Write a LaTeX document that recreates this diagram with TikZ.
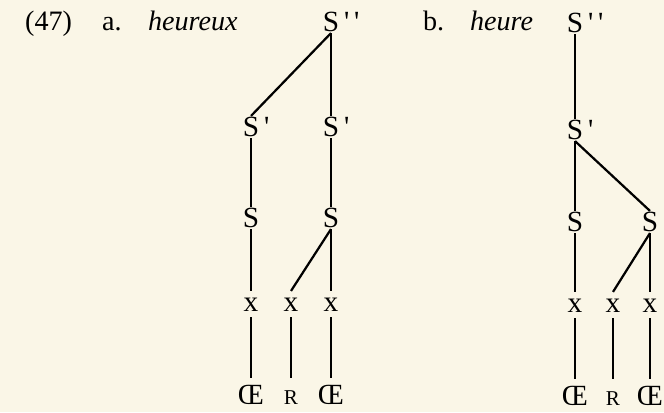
\documentclass[tikz,border=0pt]{standalone}
\usepackage{fontspec}
\setmainfont{Liberation Serif}
\usetikzlibrary{positioning}
\definecolor{paper}{RGB}{250,246,231}

\newcommand{\pr}{\rlap{\,\textquotesingle}}
\newcommand{\ppr}{\rlap{\,\textquotesingle\,\textquotesingle}}

\begin{document}
\begin{tikzpicture}[x=0.03cm, y=-0.03cm,
    every node/.style={font=\fontsize{25}{30}\selectfont},
    cat/.style={inner sep=1pt, text height=16.5pt, text depth=0pt},
    smallcat/.style={cat, font=\fontsize{18}{22}\selectfont},
    title/.style={anchor=base west, font=\fontsize{24}{28}\selectfont},
    branch/.style={line width=1.9pt},
    stem/.style={branch, shorten <=3.5pt, shorten >=5pt}
]

% page
\fill[paper] (0,0) rectangle (664,412);
\useasboundingbox (0,0) rectangle (664,412);

% ============ HEADINGS ============
\node[title] (num) at (21,30) {(47)};
\node[title] (la) at (98,30) {a.};
\node[title] (wa) at (144,30) {\itshape heureux};
\node[title] (lb) at (419,30) {b.};
\node[title] (wb) at (466,30) {\itshape heure};

% ============ TREE A: heureux ============
\node[cat] (a0) at (331,22) {S\ppr};
\node[cat] (a1l) at (251,127) {S\pr};
\node[cat] (a1r) at (331,127) {S\pr};
\node[cat] (a2l) at (251,218) {S};
\node[cat] (a2r) at (331,218) {S};
\node[cat] (a3l) at (251,302) {x};
\node[cat] (a3m) at (291,302) {x};
\node[cat] (a3r) at (331,302) {x};
\node[cat] (a4l) at (251,395) {Œ};
\node[smallcat] (a4m) at (291,395) {R};
\node[cat] (a4r) at (331,395) {Œ};

\draw[branch] (a0.south) -- (a1l.north);
\draw[branch] (a0.south) -- (a1r.north);
\draw[branch] (a1l.south) -- (a2l.north);
\draw[branch] (a1r.south) -- (a2r.north);
\draw[branch] (a2l.south) -- (a3l.north);
\draw[branch] (a2r.south) -- (a3m.north);
\draw[branch] (a2r.south) -- (a3r.north);
\draw[stem] (a3l.south) -- (a4l.north);
\draw[stem] (a3m.south) -- (a4m.north);
\draw[stem] (a3r.south) -- (a4r.north);

% ============ TREE B: heure ============
\node[cat] (b0) at (575,23) {S\ppr};
\node[cat] (b1) at (575,130) {S\pr};
\node[cat] (b2l) at (575,222) {S};
\node[cat] (b2r) at (650,222) {S};
\node[cat] (b3l) at (575,303) {x};
\node[cat] (b3m) at (613,303) {x};
\node[cat] (b3r) at (650,303) {x};
\node[cat] (b4l) at (575,396) {Œ};
\node[smallcat] (b4m) at (613,396) {R};
\node[cat] (b4r) at (650,396) {Œ};

\draw[branch] (b0.south) -- (b1.north);
\draw[branch] (b1.south) -- (b2l.north);
\draw[branch] (b1.south) -- (b2r.north);
\draw[branch] (b2l.south) -- (b3l.north);
\draw[branch] (b2r.south) -- (b3m.north);
\draw[branch] (b2r.south) -- (b3r.north);
\draw[stem] (b3l.south) -- (b4l.north);
\draw[stem] (b3m.south) -- (b4m.north);
\draw[stem] (b3r.south) -- (b4r.north);

\end{tikzpicture}
\end{document}
